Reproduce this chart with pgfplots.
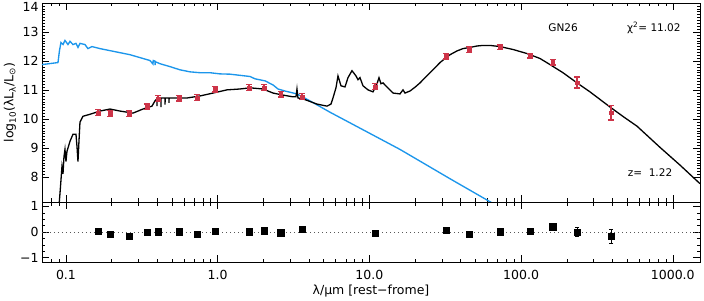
\documentclass[border=0pt]{standalone}
\usepackage{fontspec}
\setmainfont{DejaVu Sans}
\usepackage{pgfplots}
\usepackage{pgfplotstable}
\pgfplotsset{compat=1.18}
\definecolor{sedred}{RGB}{205,52,72}
\definecolor{sedblue}{RGB}{28,150,235}

\pgfplotstableread{
x y ey
0.163 10.23 0.10
0.195 10.20 0.10
0.260 10.20 0.10
0.342 10.43 0.10
0.404 10.71 0.10
0.556 10.72 0.10
0.731 10.74 0.10
0.959 11.03 0.10
1.61 11.09 0.10
2.02 11.09 0.10
2.61 10.86 0.10
3.60 10.78 0.10
10.9 11.12 0.10
32.0 12.17 0.10
45.4 12.40 0.10
72.6 12.48 0.08
114.5 12.19 0.08
162 11.96 0.10
234 11.26 0.19
392 10.22 0.25
}\photdata

\pgfplotstableread{
x r er
0.163 0.04 0.05
0.195 -0.08 0.05
0.260 -0.17 0.05
0.342 0.00 0.05
0.404 0.01 0.05
0.556 0.01 0.05
0.731 -0.08 0.05
0.959 0.03 0.05
1.61 0.01 0.05
2.02 0.05 0.05
2.61 -0.03 0.05
3.60 0.11 0.05
10.9 -0.04 0.05
32.0 0.06 0.05
45.4 -0.09 0.05
72.6 0.01 0.05
114.5 0.03 0.05
162 0.20 0.05
234 0.00 0.17
392 -0.16 0.26
}\resdata

\begin{document}
\begin{tikzpicture}
\path[use as bounding box] (0pt,0pt) rectangle (704pt,300pt);

\begin{axis}[
  scale only axis, width=658pt, height=199pt,
  at={(42pt,98pt)}, anchor=south west,
  xmode=log, xmin=0.0695, xmax=1511,
  xtick={0.1,1,10,100,1000},
  minor xtick={0.07,0.08,0.09,0.2,0.3,0.4,0.5,0.6,0.7,0.8,0.9,2,3,4,5,6,7,8,9,20,30,40,50,60,70,80,90,200,300,400,500,600,700,800,900},
  tick align=inside, tick pos=both,
  major tick length=7pt, minor tick length=3.5pt,
  tick style={black, line width=0.5pt},
  axis line style={line width=0.8pt},
  tick label style={font=\fontsize{12.5}{14}\selectfont},
  label style={font=\fontsize{12.5}{14}\selectfont},
  ymin=7.15, ymax=14,
  ytick={8,9,10,11,12,13,14},
  yticklabels={8,9,10,11,12,13,\raisebox{-9pt}[0pt][0pt]{14}},
  minor y tick num=9,
  xticklabels={},
  ylabel={log\textsubscript{10}(λL\textsubscript{λ}/L\textsubscript{⊙})},
  ylabel style={at={(axis description cs:-0.0486,0.5)}, anchor=center},
]
% unattenuated stellar template (blue)
\addplot[sedblue, line width=1.35pt] coordinates {
(0.0695,11.88) (0.0886,11.95) (0.0906,12.36) (0.0927,12.64) (0.0956,12.57)
(0.0985,12.71) (0.1031,12.57) (0.1063,12.68) (0.1112,12.57) (0.1164,12.61)
(0.1200,12.47) (0.1237,12.61) (0.1334,12.57) (0.1396,12.43) (0.1484,12.50)
(0.1675,12.43) (0.1950,12.36) (0.2270,12.29) (0.2642,12.22) (0.3075,12.12)
(0.3579,12.02) (0.3746,11.90) (0.3760,12.02) (0.3861,12.00) (0.3870,11.86)
(0.3880,11.98) (0.4165,11.91) (0.4848,11.81) (0.5643,11.70) (0.6570,11.63)
(0.7646,11.60) (0.8897,11.60) (1.0356,11.56) (1.2053,11.55) (1.6331,11.47)
(1.762,11.39) (2.051,11.32) (2.316,11.18) (2.497,11.04) (2.778,10.97)
(3.332,10.87) (4.059,10.63) (5.500,10.24) (7.117,9.93) (15.91,8.96)
(34.01,7.95) (66.27,7.08)
};
% total model SED (black)
\addplot[black, line width=1.3pt] coordinates {
(0.08964,6.91) (0.0920,7.67) (0.0941,8.37) (0.0956,8.12) (0.09701,8.71)
(0.0985,8.96) (0.1000,8.54) (0.1015,8.89) (0.1063,9.24) (0.1112,9.48)
(0.1164,9.48) (0.1182,9.06) (0.1200,8.54) (0.1218,9.24) (0.1237,9.90)
(0.1294,10.10) (0.1440,10.17) (0.1675,10.28) (0.1950,10.35) (0.2270,10.28)
(0.2765,10.21) (0.3218,10.35) (0.3690,10.45) (0.3861,10.63)
(0.3980,10.70) (0.3985,10.45) (0.3990,10.70)
(0.4165,10.73) (0.4229,10.73) (0.4232,10.42) (0.4235,10.73)
(0.4494,10.73) (0.4500,10.50) (0.4505,10.73)
(0.4775,10.73) (0.4780,10.56) (0.4785,10.73)
(0.6276,10.73) (0.7646,10.80) (0.9312,10.90) (1.1517,11.01) (1.4028,11.04)
(1.6331,11.08) (1.9895,11.04) (2.3158,10.90) (2.6946,10.83) (3.1358,10.77)
(3.2818,10.77) (3.3320,11.04) (3.3830,10.73) (3.6497,10.70) (4.5146,10.52)
(5.2539,10.45) (5.5824,10.52) (5.7544,10.73) (6.0226,11.08) (6.2087,11.49)
(6.4986,11.15) (6.9056,11.11) (7.2265,11.43) (7.6791,11.67) (8.1604,11.49)
(8.4120,11.36) (8.6707,11.43) (9.0738,11.15) (9.7905,11.01) (10.561,10.94)
(11.223,11.22) (11.570,11.43) (11.926,11.22) (12.292,11.25) (13.062,11.11)
(14.307,10.90) (15.914,10.87) (16.655,11.01) (17.170,10.90) (18.519,10.97)
(19.98,11.10) (21.562,11.25) (23.26,11.43) (25.100,11.60) (27.07,11.77)
(29.214,11.95) (31.51,12.09) (34.008,12.22) (37.8,12.35) (41.40,12.43)
(46.05,12.47) (51.21,12.52) (56.1,12.54) (62.37,12.54) (72.60,12.50)
(88.4,12.40) (109.4,12.26) (133.2,12.09) (155.1,11.88) (188.9,11.60)
(233.6,11.25) (284.7,10.94) (385.5,10.42) (476.8,10.07) (580.8,9.76)
(823.6,9.03) (1115.6,8.42) (1511,7.78)
};
% photometry
\addplot[sedred, only marks, mark=square*, mark size=1.8pt,
  error bars/.cd, y dir=both, y explicit,
  error bar style={line width=1.6pt, sedred},
  error mark options={rotate=90, mark size=3pt, line width=1.4pt, sedred}]
  table[x=x, y=y, y error=ey] {\photdata};

\node[font=\fontsize{10.5}{12}\selectfont, anchor=center] at (rel axis cs:0.792,0.874) {GN26};
\node[font=\fontsize{10.5}{12}\selectfont, anchor=west, inner sep=0pt] at (rel axis cs:0.889,0.874) {χ\textsuperscript{2}= 11.02};
\node[font=\fontsize{10.5}{12}\selectfont, anchor=west, inner sep=0pt] at (rel axis cs:0.890,0.146) {z=\ \ 1.22};
\end{axis}

\begin{axis}[
  scale only axis, width=658pt, height=60pt,
  at={(42pt,38pt)}, anchor=south west,
  xmode=log, xmin=0.0695, xmax=1511,
  xtick={0.1,1,10,100,1000},
  minor xtick={0.07,0.08,0.09,0.2,0.3,0.4,0.5,0.6,0.7,0.8,0.9,2,3,4,5,6,7,8,9,20,30,40,50,60,70,80,90,200,300,400,500,600,700,800,900},
  tick align=inside, tick pos=both,
  major tick length=7pt, minor tick length=3.5pt,
  tick style={black, line width=0.5pt},
  axis line style={line width=0.8pt},
  tick label style={font=\fontsize{12.5}{14}\selectfont},
  label style={font=\fontsize{12.5}{14}\selectfont},
  ymin=-1.17, ymax=1.17,
  ytick={-1,0,1},
  yticklabels={−1,0,1},
  minor y tick num=3,
  xticklabels={0.1,1.0,10.0,100.0,1000.0},
  xticklabel style={anchor=center, yshift=-13pt},
  xlabel={λ/µm [rest−frome]},
  xlabel style={at={(axis description cs:0.5,0)}, yshift=-29pt, anchor=center},
]
\addplot[gray!70!black, line width=0.5pt, dash pattern=on 1pt off 3pt] coordinates {(0.0695,0) (1511,0)};
\addplot[black, only marks, mark=square*, mark size=3.2pt,
  error bars/.cd, y dir=both, y explicit,
  error bar style={line width=0.5pt, black},
  error mark options={rotate=90, mark size=2.2pt, line width=0.5pt, black}]
  table[x=x, y=r, y error=er] {\resdata};
\end{axis}
\end{tikzpicture}
\end{document}
